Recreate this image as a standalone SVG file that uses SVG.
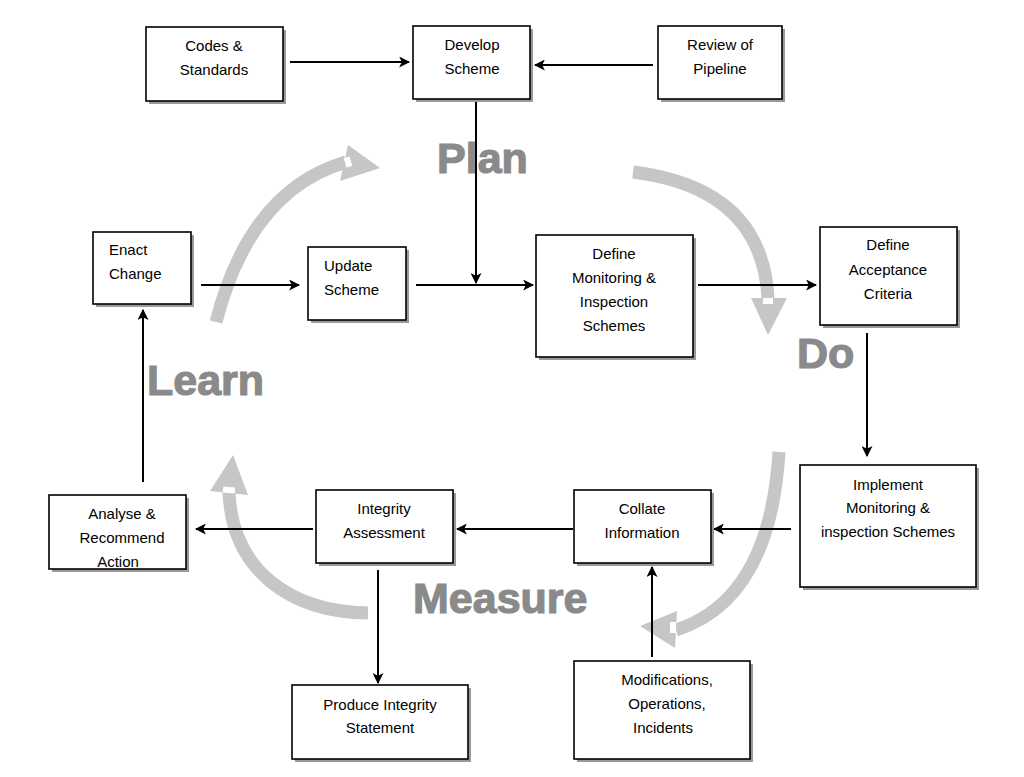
<svg xmlns="http://www.w3.org/2000/svg" width="1024" height="777" viewBox="0 0 1024 777">
<defs>
<style>
.box{fill:#fff;stroke:#000;stroke-width:1.6}
.sh{fill:#9a9a9a}
.t{font-family:"Liberation Sans",Arial,sans-serif;font-size:15px;fill:#000;text-anchor:middle}
.tl{text-anchor:start}
.big{font-family:"Liberation Sans",Arial,sans-serif;font-weight:bold;font-size:43px;fill:#8a8a8a;stroke:#8a8a8a;stroke-width:1.2}
.con{stroke:#000;stroke-width:2;fill:none;marker-end:url(#ah)}
.cyc{stroke:#c6c6c6;stroke-width:13;fill:none}
.cyh{fill:#c6c6c6}
</style>
<marker id="ah" viewBox="0 0 10 10" refX="9" refY="5" markerWidth="5.5" markerHeight="5.5" orient="auto" markerUnits="strokeWidth">
<path d="M0,0 L10,5 L0,10 L2.5,5 Z" fill="#000"/>
</marker>
</defs>
<rect width="1024" height="777" fill="#fff"/>

<g id="cycle">
<path class="cyc" d="M216,322 Q250,190 346,162"/>
<polygon class="cyh" points="380,168 348,145 340,181"/>
<rect x="345" y="157" width="6" height="10" fill="#fff" transform="rotate(-15 348 162)"/>
<path class="cyc" d="M633,172 Q762,188 768,298"/>
<polygon class="cyh" points="768,335 751,298 787,298"/>
<rect x="763" y="298" width="10" height="6" fill="#fff"/>
<path class="cyc" d="M779,452 Q770,600 676,630"/>
<polygon class="cyh" points="640,626 677,611 675,648"/>
<rect x="670" y="622" width="6" height="11" fill="#fff"/>
<path class="cyc" d="M368,613 C290,612 232,570 229,492"/>
<polygon class="cyh" points="233,455 210,491 248,495"/>
<rect x="223" y="487" width="12" height="6" fill="#fff" transform="rotate(5 229 490)"/>
</g>

<g id="labels">
<text class="big" x="437" y="173">Plan</text>
<text class="big" x="797" y="368">Do</text>
<text class="big" x="147" y="395">Learn</text>
<text class="big" x="413" y="613">Measure</text>
</g>

<g id="connectors">
<line class="con" x1="290" y1="62" x2="409" y2="62"/>
<line class="con" x1="653" y1="65" x2="535" y2="65"/>
<line class="con" x1="476" y1="102" x2="476" y2="283"/>
<line class="con" x1="201" y1="285" x2="299" y2="285"/>
<line class="con" x1="416" y1="285" x2="533" y2="285"/>
<line class="con" x1="698" y1="285" x2="816" y2="285"/>
<line class="con" x1="867" y1="333" x2="867" y2="456"/>
<line class="con" x1="791" y1="529" x2="714" y2="529"/>
<line class="con" x1="573" y1="529" x2="457" y2="529"/>
<line class="con" x1="313" y1="529" x2="196" y2="529"/>
<line class="con" x1="378" y1="570" x2="378" y2="683"/>
<line class="con" x1="652" y1="657" x2="652" y2="567"/>
<line class="con" x1="143" y1="482" x2="143" y2="310"/>
</g>

<g id="codes">
<rect class="sh" x="149" y="30" width="137" height="74"/>
<rect class="box" x="146" y="27" width="137" height="74"/>
<text class="t" x="214" y="51">Codes &amp;</text>
<text class="t" x="214" y="75">Standards</text>
</g>
<g id="develop">
<rect class="sh" x="416" y="29" width="117" height="73"/>
<rect class="box" x="413" y="26" width="117" height="73"/>
<text class="t" x="472" y="50">Develop</text>
<text class="t" x="472" y="74">Scheme</text>
</g>
<g id="review">
<rect class="sh" x="661" y="29" width="124" height="73"/>
<rect class="box" x="658" y="26" width="124" height="73"/>
<text class="t" x="720" y="50">Review of</text>
<text class="t" x="720" y="74">Pipeline</text>
</g>
<g id="enact">
<rect class="sh" x="96" y="235" width="98" height="72"/>
<rect class="box" x="93" y="232" width="98" height="72"/>
<text class="t tl" x="109" y="255">Enact</text>
<text class="t tl" x="109" y="279">Change</text>
</g>
<g id="update">
<rect class="sh" x="311" y="250" width="98" height="73"/>
<rect class="box" x="308" y="247" width="98" height="73"/>
<text class="t tl" x="324" y="271">Update</text>
<text class="t tl" x="324" y="295">Scheme</text>
</g>
<g id="definemon">
<rect class="sh" x="539" y="238" width="157" height="122"/>
<rect class="box" x="536" y="235" width="157" height="122"/>
<text class="t" x="614" y="259">Define</text>
<text class="t" x="614" y="283">Monitoring &amp;</text>
<text class="t" x="614" y="307">Inspection</text>
<text class="t" x="614" y="331">Schemes</text>
</g>
<g id="acceptance">
<rect class="sh" x="823" y="230" width="137" height="98"/>
<rect class="box" x="820" y="227" width="137" height="98"/>
<text class="t" x="888" y="250">Define</text>
<text class="t" x="888" y="275">Acceptance</text>
<text class="t" x="888" y="299">Criteria</text>
</g>
<g id="implement">
<rect class="sh" x="803" y="468" width="176" height="122"/>
<rect class="box" x="800" y="465" width="176" height="122"/>
<text class="t" x="888" y="490">Implement</text>
<text class="t" x="888" y="513">Monitoring &amp;</text>
<text class="t" x="888" y="537">inspection Schemes</text>
</g>
<g id="collate">
<rect class="sh" x="577" y="493" width="137" height="73"/>
<rect class="box" x="574" y="490" width="137" height="73"/>
<text class="t" x="642" y="514">Collate</text>
<text class="t" x="642" y="538">Information</text>
</g>
<g id="integrity">
<rect class="sh" x="319" y="493" width="137" height="73"/>
<rect class="box" x="316" y="490" width="137" height="73"/>
<text class="t" x="384" y="514">Integrity</text>
<text class="t" x="384" y="538">Assessment</text>
</g>
<g id="analyse">
<rect class="sh" x="52" y="498" width="137" height="74"/>
<rect class="box" x="49" y="495" width="137" height="74"/>
<text class="t" x="122" y="519">Analyse &amp;</text>
<text class="t" x="122" y="543">Recommend</text>
<text class="t" x="118" y="567">Action</text>
</g>
<g id="produce">
<rect class="sh" x="295" y="688" width="176" height="74"/>
<rect class="box" x="292" y="685" width="176" height="74"/>
<text class="t" x="380" y="710">Produce Integrity</text>
<text class="t" x="380" y="733">Statement</text>
</g>
<g id="modifications">
<rect class="sh" x="577" y="664" width="176" height="98"/>
<rect class="box" x="574" y="661" width="176" height="98"/>
<text class="t" x="667" y="685">Modifications,</text>
<text class="t" x="667" y="709">Operations,</text>
<text class="t" x="663" y="733">Incidents</text>
</g>
</svg>
